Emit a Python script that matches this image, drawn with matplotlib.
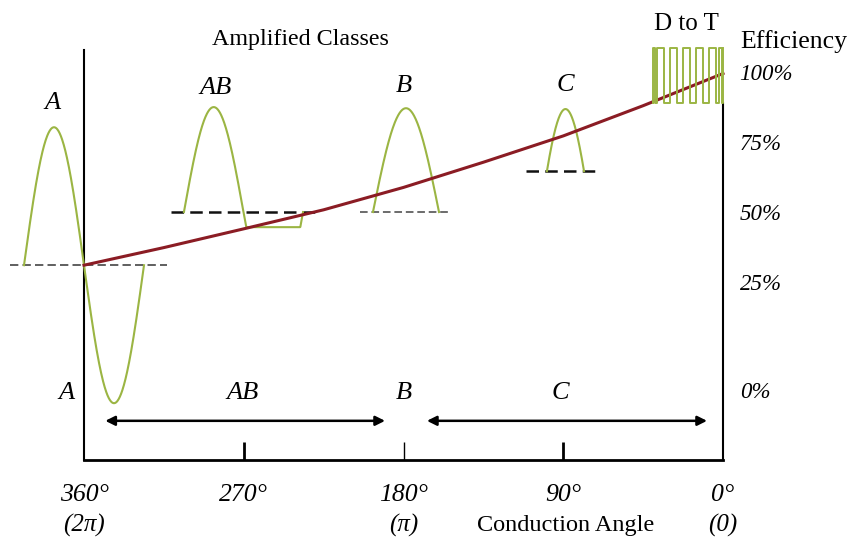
import matplotlib.pyplot as plt
import numpy as np

plt.rcParams['font.family'] = ['Liberation Serif', 'DejaVu Serif']

# efficiency curve (conduction angle in degrees, efficiency in %)
angle = [360, 315, 270, 225, 180, 135, 90, 45, 0]
efficiency = [31, 37.3, 44, 50.8, 58.8, 67.8, 77.2, 88, 99.5]

x_ticks = [360, 270, 180, 90, 0]
x_labels = ['360°', '270°', '180°', '90°', '0°']
rad_ticks = [360, 180, 0]
rad_labels = ['(2π)', '(π)', '(0)']
eff_ticks = [100, 75, 50, 25]
eff_labels = ['100%', '75%', '50%', '25%']

# class waveforms: baseline %, amplitude %, start / end angle
a_base, a_amp, a_start, a_end = 31, 49.3, 393.8, 326.2
ab_base, ab_amp, ab_start, ab_end, ab_clip = 50, 37.5, 303.7, 236.6, -5.4
b_base, b_amp, b_start, b_end = 50, 37.1, 197.2, 160
c_base, c_amp, c_start, c_end = 64.6, 22.2, 99.2, 78.3

# dashed bias lines (from, to, level)
bias_lines = [(401.7, 313.2, 31), (311, 229.9, 50), (204.5, 154.9, 50), (111, 68.7, 64.6)]

# D to T switching wave
dt_edges = [39.4, 38.3, 37.2, 33.2, 29.9, 25.9, 22.5, 18.6, 15.2, 11.3, 7.9, 3.9, 2.3, 0.6, 0]
dt_hi, dt_lo = 108.6, 89

wave_col = '#9bb543'
curve_col = '#8b1c24'

fig = plt.figure(figsize=(8.52, 5.5), dpi=100)
ax = fig.add_axes([84/852, 90/550, 639/852, 410/550])
ax.set_xlim(360, 0)
ax.set_ylim(-38.6, 107.9)

# bias lines
styles = [('#444444', 1.2), ('#111111', 1.8), ('#444444', 1.1), ('#111111', 1.8)]
for (x0, x1, lev), (c, w) in zip(bias_lines, styles):
    ax.plot([x0, x1], [lev, lev], ls=(0, (5, 2.5)), color=c, lw=w, clip_on=False, zorder=2)

# class A: full sine
xa = np.linspace(a_start, a_end, 300)
ya = a_base + a_amp * np.sin(2*np.pi*(xa - 360)/(a_start - a_end))
ax.plot(xa, ya, color=wave_col, lw=1.5, clip_on=False, zorder=3)

# class AB: sine with clipped negative half
xab = np.linspace(ab_start, ab_end, 400)
s = ab_amp * np.sin(2*np.pi*(ab_start - xab)/(ab_start - ab_end))
s = np.maximum(s, ab_clip)
xab = np.append(xab, ab_end)
yab = np.append(ab_base + s, ab_base)
ax.plot(xab, yab, color=wave_col, lw=1.5, clip_on=False, zorder=3)

# class B: half sine
xb = np.linspace(b_start, b_end, 200)
yb = b_base + b_amp * np.sin(np.pi*(b_start - xb)/(b_start - b_end))
ax.plot(xb, yb, color=wave_col, lw=1.5, clip_on=False, zorder=3)

# class C: sine cap
phi = np.radians(65)
t = np.linspace(-phi, phi, 200)
xc = c_start + (c_end - c_start) * (t + phi)/(2*phi)
yc = c_base + c_amp * (np.cos(t) - np.cos(phi))/(1 - np.cos(phi))
ax.plot(xc, yc, color=wave_col, lw=1.5, clip_on=False, zorder=3)

# efficiency curve
ax.plot(angle, efficiency, color=curve_col, lw=2.2, clip_on=False, zorder=4)

# D to T square wave
lev = [dt_hi if i % 2 == 0 else dt_lo for i in range(len(dt_edges))]
ax.step([dt_edges[0]] + dt_edges, [dt_lo] + lev, where='post', color=wave_col, lw=1.4,
        clip_on=False, zorder=5)

# arrows
for x0, x1 in [(348, 190.4), (166.8, 9)]:
    ax.annotate('', xy=(x1, -24.6), xytext=(x0, -24.6),
                arrowprops=dict(arrowstyle='<|-|>', color='black', lw=1.8, mutation_scale=14,
                                shrinkA=0, shrinkB=0))

# spines & ticks
ax.spines['top'].set_visible(False)
ax.spines['left'].set_linewidth(1.5)
ax.spines['bottom'].set_linewidth(2)
ax.spines['right'].set_linewidth(1.5)
ax.spines['right'].set_bounds(-38.6, 88.9)

ax.set_xticks(x_ticks)
ax.set_xticklabels(x_labels, fontsize=18.5, style='italic')
ax.tick_params(axis='x', direction='in', length=13, width=2, pad=17)
for i, tk in enumerate(ax.xaxis.get_major_ticks()):
    if x_ticks[i] in (360, 0):
        tk.tick1line.set_visible(False)
    if x_ticks[i] == 180:
        tk.tick1line.set_markeredgewidth(1)

for xv, lab in zip(rad_ticks, rad_labels):
    ax.text(xv, -62, lab, fontsize=18, style='italic', ha='center', va='center')

ax.yaxis.tick_right()
ax.set_yticks(eff_ticks)
ax.set_yticklabels(eff_labels, fontsize=16.5, style='italic')
ax.tick_params(axis='y', length=0, pad=12)

# labels
it = dict(fontsize=19, style='italic', ha='center', va='center')
ax.text(377.5, 88.9, 'A', **it)
ax.text(285.6, 94.3, 'AB', **it)
ax.text(179.7, 95, 'B', **it)
ax.text(89, 95.4, 'C', **it)
ax.text(370, -14.6, 'A', **it)
ax.text(270.4, -14.6, 'AB', **it)
ax.text(179.7, -14.6, 'B', **it)
ax.text(91.8, -14.6, 'C', **it)
ax.text(-9.6, -14.6, '0%', fontsize=16.5, style='italic', ha='left', va='center')

ax.text(-9.6, 110.8, 'Efficiency', fontsize=18.5, ha='left', va='center')
ax.text(20.8, 117.3, 'D to T', fontsize=18, ha='center', va='center')
ax.text(238, 111.8, 'Amplified Classes', fontsize=17.3, ha='center', va='center')
ax.text(88.5, -62, 'Conduction Angle', fontsize=17.5, ha='center', va='center')

fig.savefig('out.png', dpi=100)
